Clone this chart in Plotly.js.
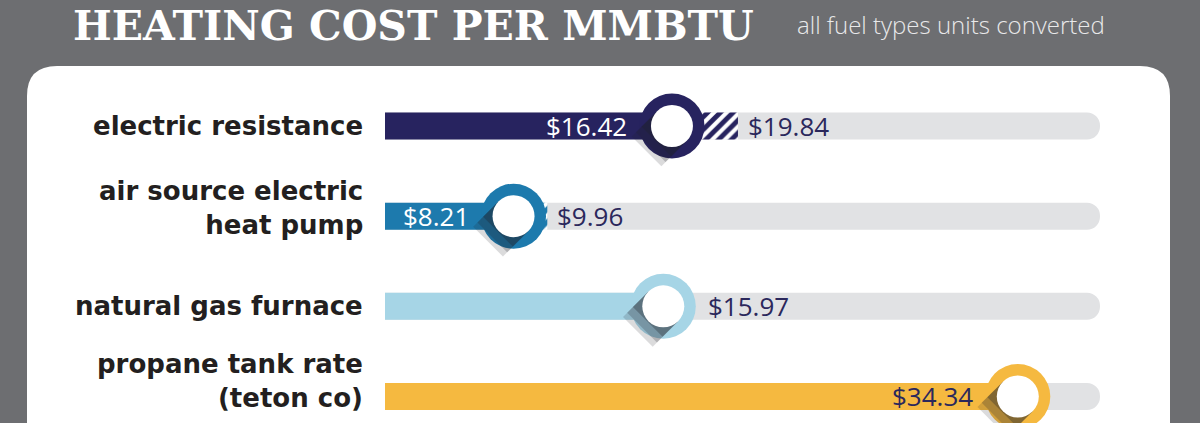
<!DOCTYPE html>
<html>
<head>
<meta charset="utf-8">
<script src="https://cdn.plot.ly/plotly-3.0.1.min.js"></script>
<style>html,body{margin:0;padding:0;background:#6d6e71;}#chart{width:1200px;height:423px;}</style>
</head>
<body>
<div id="chart"></div>
<script>
// ---- data ----
const categories = ['electric resistance', 'air source electric<br>heat pump', 'natural gas furnace', 'propane tank rate<br>(teton co)'];
const lowCost = [16.42, 8.21, 15.97, 34.34];
const highCost = [19.84, 9.96, null, null];
const lowLabels = ['$16.42', '$8.21', '$15.97', '$34.34'];
const highLabels = ['$19.84', '$9.96', null, null];
const titleText = 'HEATING COST PER MMBTU';
const subtitleText = 'all fuel types units converted';

// ---- style ----
const colors = ['#27235f', '#1d7aad', '#a6d5e6', '#f5b940'];
const navy = '#2b285c';
const labelInside = [true, true, false, true];
const lowLabelColor = ['#ffffff', '#ffffff', navy, navy];
const catShift = [0, 8, 0, 15];

const W = 1200, H = 423;
const M = {l: 385, r: 100, t: 66, b: 0};
const xRange = [1.55, 38.6];
const yRange = [3.294, -0.6654];
const plotW = W - M.l - M.r, plotH = H - M.t - M.b;
const pxX = plotW / (xRange[1] - xRange[0]);
const pxY = plotH / (yRange[0] - yRange[1]);
const rows = categories.map((_, i) => i);
const trackMax = categories.map(() => xRange[1]);

const ringOuter = 65, ringInner = 42;
const traces = [];
// gray track
traces.push({type: 'bar', orientation: 'h', y: rows, x: trackMax, base: 0, width: 0.3,
  marker: {color: '#e1e2e4', cornerradius: 14}, hoverinfo: 'skip'});
// colored value bar
traces.push({type: 'bar', orientation: 'h', y: rows, x: lowCost, base: 0, width: 0.3,
  marker: {color: colors}, hoverinfo: 'skip'});
// hatched range segment
const hIdx = rows.filter(i => highCost[i] != null);
traces.push({type: 'bar', orientation: 'h', y: hIdx, base: hIdx.map(i => lowCost[i]),
  x: hIdx.map(i => highCost[i] - lowCost[i]), width: 0.3,
  marker: {color: '#ffffff', pattern: {shape: '/', fgcolor: hIdx.map(i => colors[i]), bgcolor: '#ffffff', size: 9, solidity: 0.55}},
  hoverinfo: 'skip'});
// ring outer disk
traces.push({type: 'scatter', mode: 'markers', x: lowCost, y: rows, cliponaxis: false,
  marker: {size: ringOuter, color: colors, line: {width: 0}}, hoverinfo: 'skip'});
// long shadows of the ring hole
function shadow(i, L, alpha) {
  const r = ringInner / 2, k = r / Math.SQRT2, d = L / Math.SQRT2;
  const pts = [[k, k], [-k, -k], [-k - d, -k + d], [k - d, k + d], [k, k]];
  return {type: 'scatter', mode: 'lines', fill: 'toself', cliponaxis: false,
    x: pts.map(p => lowCost[i] + p[0] / pxX), y: pts.map(p => i + p[1] / pxY),
    line: {width: 0}, fillcolor: 'rgba(30,32,40,' + alpha + ')', hoverinfo: 'skip'};
}
rows.forEach(i => { traces.push(shadow(i, 36, 0.16)); traces.push(shadow(i, 30, 0.22)); traces.push(shadow(i, 22, 0.3)); });
// white inner disk
traces.push({type: 'scatter', mode: 'markers', x: lowCost, y: rows, cliponaxis: false,
  marker: {size: ringInner, color: '#ffffff', line: {width: 0}}, hoverinfo: 'skip'});

const valFont = {family: 'Open Sans, sans-serif', size: 26};
const annotations = [];
rows.forEach(i => {
  annotations.push({xref: 'paper', yref: 'y', x: 0, y: i, xanchor: 'right', xshift: -20, yshift: catShift[i],
    text: categories[i], showarrow: false, align: 'right',
    font: {family: 'DejaVu Sans, sans-serif', size: 26, weight: 700, color: '#231f20'}});
  const inside = labelInside[i];
  annotations.push({xref: 'x', yref: 'y', x: lowCost[i], y: i, showarrow: false,
    xanchor: inside ? 'right' : 'left', xshift: inside ? -(ringOuter / 2 + 10) : (ringOuter / 2 + 10),
    text: lowLabels[i], font: Object.assign({}, valFont, {color: lowLabelColor[i]})});
  if (highCost[i] != null) {
    annotations.push({xref: 'x', yref: 'y', x: highCost[i], y: i, showarrow: false, xanchor: 'left', xshift: 8,
      text: highLabels[i], font: Object.assign({}, valFont, {color: navy})});
  }
});
annotations.push({xref: 'paper', yref: 'paper', x: (71 - M.l) / plotW, y: H / plotH, xanchor: 'left', yanchor: 'top',
  text: titleText, showarrow: false, font: {family: 'DejaVu Serif', size: 41, weight: 700, color: '#ffffff'}});
annotations.push({xref: 'paper', yref: 'paper', x: (795 - M.l) / plotW, y: (H - 25) / plotH, xanchor: 'left', yanchor: 'middle',
  text: subtitleText, showarrow: false, font: {family: 'Open Sans, sans-serif', size: 24, weight: 300, color: '#e9e9ea'}});

// white panel
const px0 = (27 - M.l) / plotW, px1 = (1170 - M.l) / plotW, rx = 30 / plotW, ry = 30 / plotH, yb = -0.2;
const panel = `M ${px0},${yb} L ${px0},${1 - ry} Q ${px0},1 ${px0 + rx},1 L ${px1 - rx},1 Q ${px1},1 ${px1},${1 - ry} L ${px1},${yb} Z`;

const layout = {
  width: W, height: H, margin: M, showlegend: false, barmode: 'overlay',
  paper_bgcolor: '#6d6e71', plot_bgcolor: 'rgba(0,0,0,0)',
  xaxis: {range: xRange, visible: false, fixedrange: true},
  yaxis: {range: yRange, visible: false, fixedrange: true},
  shapes: [{type: 'path', xref: 'paper', yref: 'paper', path: panel, fillcolor: '#ffffff', line: {width: 0}, layer: 'below'}],
  annotations: annotations
};
Plotly.newPlot('chart', traces, layout, {staticPlot: true, displayModeBar: false});
</script>
</body>
</html>
